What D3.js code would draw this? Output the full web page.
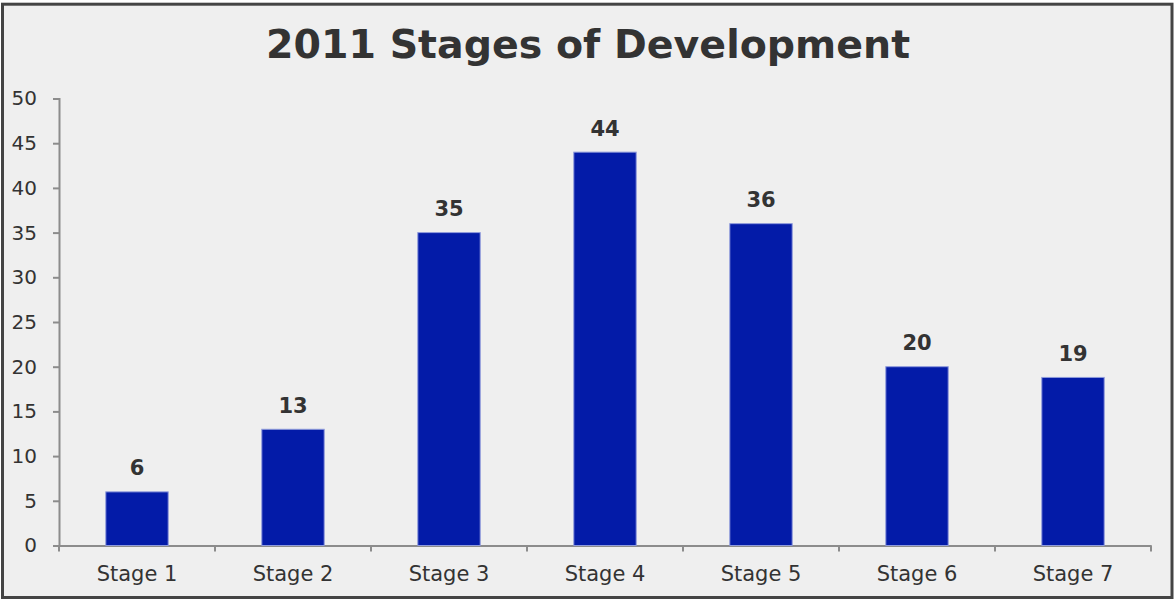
<!DOCTYPE html>
<html>
<head>
<meta charset="utf-8">
<script src="https://cdn.jsdelivr.net/npm/d3@7"></script>
<style>
  body { margin: 0; background: #fff; }
  svg { display: block; font-family: "DejaVu Sans", Verdana, sans-serif; }
</style>
</head>
<body>
<div id="chart-area"></div>
<script>
const stages = ['Stage 1', 'Stage 2', 'Stage 3', 'Stage 4', 'Stage 5', 'Stage 6', 'Stage 7'];
const counts = [6, 13, 35, 44, 36, 20, 18.8];
const yTicks = [0, 5, 10, 15, 20, 25, 30, 35, 40, 45, 50];

const W = 1174, H = 599;
const margin = {left: 59, right: 23, top: 98.5, bottom: 53.5};
const width = W - margin.left - margin.right,
    height = H - margin.top - margin.bottom;

const svg = d3.select('#chart-area')
    .append('svg')
    .attr('width', W)
    .attr('height', H);

// frame
svg.append('rect')
    .attr('x', 2.5).attr('y', 4.2)
    .attr('width', 1169.5).attr('height', 593.3)
    .attr('fill', '#efefef')
    .attr('stroke', '#444')
    .attr('stroke-width', 3);

svg.append('text')
    .text('2011 Stages of Development')
    .attr('x', 588)
    .attr('y', 58)
    .attr('text-anchor', 'middle')
    .attr('font-size', '39.5px')
    .attr('font-weight', 'bold')
    .attr('fill', '#333');

const g = svg.append('g')
    .attr('transform', 'translate(' + margin.left + ', ' + margin.top + ')');

const x = d3.scaleBand()
    .domain(stages)
    .range([0, width])
    .paddingInner(0.6)
    .paddingOuter(0.3);

const y = d3.scaleLinear()
    .domain([0, 50])
    .range([height, 0]);

const yAxis = g.append('g')
    .call(d3.axisLeft(y).tickValues(yTicks).tickSize(6).tickPadding(16));

const xAxis = g.append('g')
    .attr('transform', 'translate(0, ' + height + ')')
    .call(d3.axisBottom(x).tickSize(0).tickPadding(21));

// x ticks at category boundaries
const step = x.step();
g.append('g')
    .selectAll('line')
    .data(d3.range(stages.length + 1))
    .enter()
    .append('line')
    .attr('x1', i => x(stages[0]) - x.paddingOuter() * step + i * step)
    .attr('x2', i => x(stages[0]) - x.paddingOuter() * step + i * step)
    .attr('y1', height)
    .attr('y2', height + 6)
    .attr('stroke', '#8c8c8c')
    .attr('stroke-width', 2);

[yAxis, xAxis].forEach(ax => {
    ax.selectAll('.domain').attr('stroke', '#8c8c8c').attr('stroke-width', 2);
    ax.selectAll('.tick line').attr('stroke', '#8c8c8c').attr('stroke-width', 2);
    ax.selectAll('text')
        .attr('fill', '#333')
        .attr('font-family', '"DejaVu Sans", Verdana, sans-serif');
});
yAxis.selectAll('text').attr('font-size', '20px');
xAxis.selectAll('text').attr('font-size', '21px');

g.selectAll('rect.bar')
    .data(counts)
    .enter()
    .append('rect')
    .attr('class', 'bar')
    .attr('x', (d, i) => x(stages[i]))
    .attr('y', d => y(d))
    .attr('width', x.bandwidth())
    .attr('height', d => height - y(d))
    .attr('fill', '#031ba8')
    .attr('stroke', '#8f9bdc')
    .attr('stroke-width', 1);

g.selectAll('text.val')
    .data(counts)
    .enter()
    .append('text')
    .attr('class', 'val')
    .text(d => d3.format('.0f')(d))
    .attr('x', (d, i) => x(stages[i]) + x.bandwidth() / 2)
    .attr('y', d => y(d) - 16.5)
    .attr('text-anchor', 'middle')
    .attr('font-size', '21px')
    .attr('font-weight', 'bold')
    .attr('fill', '#333');
</script>
</body>
</html>
